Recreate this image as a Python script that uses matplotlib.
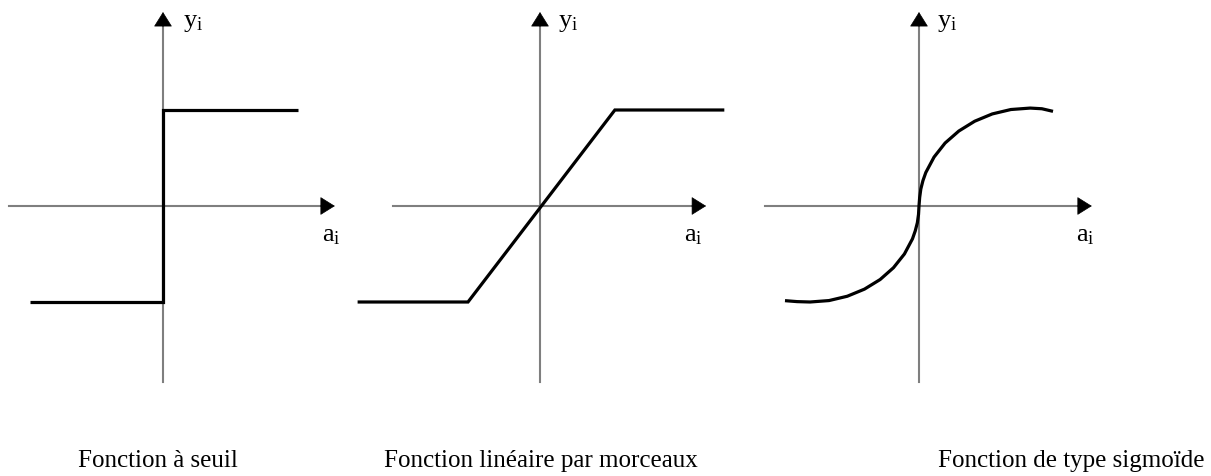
import matplotlib
matplotlib.use('Agg')
import matplotlib.pyplot as plt

plt.rcParams['font.family'] = ['Liberation Serif', 'DejaVu Serif']
plt.rcParams['mathtext.fontset'] = 'custom'
plt.rcParams['mathtext.rm'] = 'Liberation Serif'

# donnees (unites abstraites, origine au croisement des axes)
seuil_x = [-1.39, 0, 0, 1.41]
seuil_y = [-1, -1, 1, 1]

lin_x = [-1.9, -0.75, 0.78, 1.92]
lin_y = [-1, -1, 1, 1]

sig_x = [-1.396, -1.27, -1.135, -0.937, -0.747, -0.568, -0.405, -0.266, -0.152, -0.068,
         -0.039, -0.017, -0.005, 0, 0.007, 0.019, 0.041, 0.071, 0.157, 0.272, 0.415,
         0.58, 0.763, 0.957, 1.158, 1.28, 1.396]
sig_y = [-0.986, -0.996, -1.0, -0.985, -0.94, -0.866, -0.766, -0.643, -0.5, -0.342,
         -0.259, -0.174, -0.087, 0, 0.089, 0.177, 0.264, 0.349, 0.51, 0.656, 0.781,
         0.883, 0.959, 1.005, 1.02, 1.013, 0.986]

titres = ['Fonction à seuil', 'Fonction linéaire par morceaux', 'Fonction de type sigmoïde']

W, H = 1211, 477
S = 96  # pixels par unite
gris = '#7f7f7f'

fig = plt.figure(figsize=(W / 100, H / 100), dpi=100)


def panneau(ox, oy, xs, ys, x0, x1, ylab_x, alab_x):
    ax = fig.add_axes([(ox - 2 * S) / W, (H - oy - 2.1 * S) / H, 4 * S / W, 4.2 * S / H])
    ax.set_xlim(-2, 2)
    ax.set_ylim(-2.1, 2.1)
    ax.axis('off')
    ax.patch.set_alpha(0)
    # axes gris
    ax.plot([x0, x1 - 0.1], [0, 0], color=gris, lw=1.5, clip_on=False, zorder=1)
    ax.plot([0, 0], [-1.83, 1.95], color=gris, lw=1.5, clip_on=False, zorder=1)
    fl = dict(arrowstyle='-|>,head_length=0.48,head_width=0.3', mutation_scale=20,
              color='black', lw=0.5, shrinkA=0, shrinkB=0)
    ax.annotate('', xy=(x1, 0), xytext=(x1 - 0.15, 0), arrowprops=fl, annotation_clip=False)
    ax.annotate('', xy=(0, 2.02), xytext=(0, 1.87), arrowprops=fl, annotation_clip=False)
    ax.plot(xs, ys, color='black', lw=2.3, clip_on=False, zorder=3,
            solid_joinstyle='miter', solid_capstyle='butt')
    ax.text(ylab_x, 1.92, r'$\mathregular{y_i}$', fontsize=19, ha='left', va='center')
    ax.text(alab_x, -0.30, r'$\mathregular{a_i}$', fontsize=19, ha='center', va='center')
    return ax


panneau(163, 207, seuil_x, seuil_y, -1.6, 1.79, 0.21, 1.75)
panneau(540, 207, lin_x, lin_y, -1.53, 1.73, 0.19, 1.60)
panneau(919, 207, sig_x, sig_y, -1.60, 1.80, 0.19, 1.73)

fig.text(158 / W, 1 - 467 / H, titres[0], fontsize=18, ha='center', va='baseline')
fig.text(541 / W, 1 - 467 / H, titres[1], fontsize=18, ha='center', va='baseline')
fig.text(1204 / W, 1 - 467 / H, titres[2], fontsize=18, ha='right', va='baseline')

fig.savefig('out.png', dpi=100)
